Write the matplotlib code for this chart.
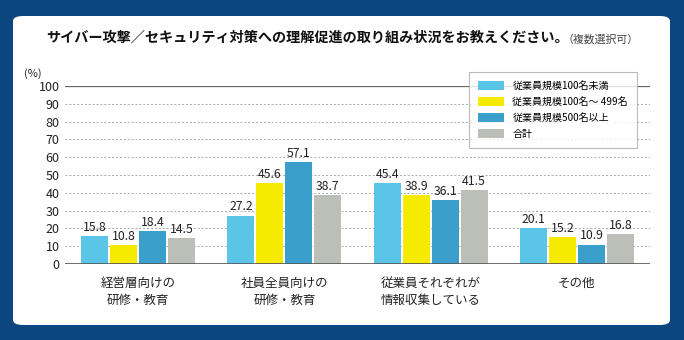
import matplotlib.pyplot as plt
import numpy as np
from matplotlib.patches import FancyBboxPatch

plt.rcParams['font.family'] = ['Noto Sans CJK JP', 'DejaVu Sans']

categories = ['経営層向けの\n研修・教育', '社員全員向けの\n研修・教育', '従業員それぞれが\n情報収集している', 'その他']
series_names = ['従業員規模100名未満', '従業員規模100名～ 499名', '従業員規模500名以上', '合計']
values = [
    [15.8, 27.2, 45.4, 20.1],
    [10.8, 45.6, 38.9, 15.2],
    [18.4, 57.1, 36.1, 10.9],
    [14.5, 38.7, 41.5, 16.8],
]
colors = ['#5bc5e8', '#f5ea00', '#3a9fcb', '#bcbfb8']

fig = plt.figure(figsize=(6.84, 3.4), dpi=100)
fig.patch.set_facecolor('#0c4680')

# white rounded panel
panel = FancyBboxPatch((13/684, 1 - 325/340), 657/684, 309/340,
                       boxstyle='round,pad=0,rounding_size=0.015',
                       transform=fig.transFigure, facecolor='white', edgecolor='none', zorder=-5)
fig.patches.append(panel)

fig.text(46/684, 1 - 38/340, 'サイバー攻撃／セキュリティ対策への理解促進の取り組み状況をお教えください。',
         fontsize=10.2, fontweight='bold', va='center', ha='left', color='#111111')
fig.text(563/684, 1 - 39/340, '（複数選択可）', fontsize=7.8, va='center', ha='left', color='#444444')

ax = fig.add_axes([65/684, 1 - 264/340, 585/684, 178/340])
ax.set_facecolor('none')

x = np.arange(len(categories))
step = 0.198
width = 0.185
for i, (name, vals) in enumerate(zip(series_names, values)):
    pos = x + (i - 1.5) * step
    ax.bar(pos, vals, width, color=colors[i], label=name, zorder=3)
    for p, v in zip(pos, vals):
        ax.text(p, v + 1.2, f'{v:.1f}', ha='center', va='bottom', fontsize=8.8, color='#222222')

ax.set_xlim(-0.5, 3.5)
ax.set_ylim(0, 100)
ax.set_yticks(range(0, 101, 10))
for t in range(10, 100, 10):
    ax.axhline(t, color='#aaaaaa', lw=0.7, ls=(0, (2, 2)), zorder=1)
ax.axhline(100, color='#666666', lw=0.9, zorder=1)
ax.axhline(0, color='#555555', lw=1.2, zorder=4)

for s in ax.spines.values():
    s.set_visible(False)
ax.tick_params(axis='y', length=0, labelsize=9, colors='#222222', pad=4)
ax.set_xticks(x)
ax.set_xticklabels(categories, fontsize=9, color='#222222', linespacing=1.45)
ax.tick_params(axis='x', length=0, pad=9)
ax.text(-0.04, 1.07, '(%)', transform=ax.transAxes, fontsize=8, ha='right', va='center', color='#222222')

leg = ax.legend(loc='upper right', bbox_to_anchor=(637/684, 1 - 72/340), bbox_transform=fig.transFigure,
                fontsize=7.2, frameon=True, fancybox=False, edgecolor='#aaaaaa', borderaxespad=0,
                handlelength=2.6, handleheight=1.0, borderpad=0.9, labelspacing=0.6)
leg.get_frame().set_linewidth(0.8)

fig.savefig('out.png', dpi=100, facecolor=fig.get_facecolor())
